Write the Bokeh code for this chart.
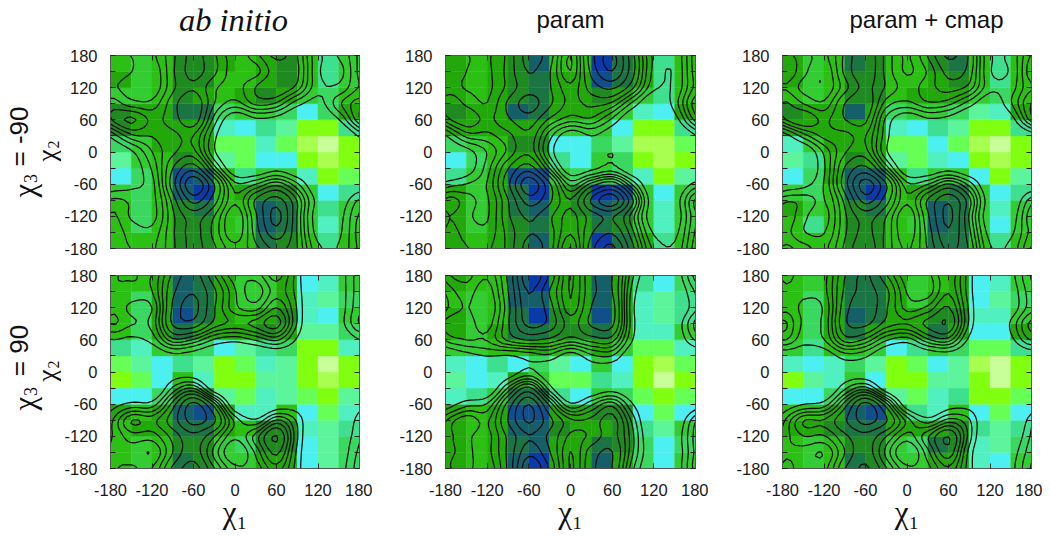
import numpy as np
from bokeh.plotting import figure
from bokeh.layouts import column, row
from bokeh.models import ColumnDataSource, LinearColorMapper, FixedTicker, LinearAxis, Label, Range1d
from bokeh.transform import transform
from bokeh.embed import file_html
from bokeh.resources import INLINE

PALETTE = ["#0a3aa8", "#104f8c", "#156068", "#1b7444", "#1e8a20", "#22a80a", "#2cc014",
           "#33cc33", "#3ad860", "#3ee090", "#50f0c0", "#4cf0f0", "#5cf59c", "#66ff55",
           "#80ff10", "#a8ff50", "#c8ff98"]
TICKS = [-180, -120, -60, 0, 60, 120, 180]
TICK_LABELS = {-180: "-180", -120: "-120", -60: "-60", 0: "0", 60: "60", 120: "120", 180: "180"}
MINOR = [-150, -90, -30, 30, 90, 150]
LEVELS = [1.0, 2.0, 3.0, 4.0, 4.8, 5.5, 6.2, 7.0, 8.0]

AB_TOP = [
 [6,7,6,4,4,5,6,5,4,6,9,7],[5,7,6,4,4,6,6,5,4,6,9,7],[7,7,6,4,5,6,5,4,5,7,8,6],
 [4,5,5,3,3,8,7,7,8,11,8,5],[4,5,5,5,5,10,11,9,12,14,14,9],[8,7,5,5,5,13,13,10,13,15,16,14],
 [12,7,6,4,5,12,13,11,11,14,15,14],[11,8,6,1,2,6,9,7,7,10,14,13],[7,8,6,2,0,6,5,4,4,7,11,9],
 [6,8,6,4,3,6,6,2,3,7,9,7],[6,8,6,4,4,6,7,2,3,7,10,7],[6,6,6,4,4,6,6,3,4,6,9,6]]
PARAM_TOP = [
 [5,6,5,4,2,6,6,0,3,5,9,6],[5,6,5,4,3,5,5,1,3,5,9,6],[5,6,5,4,3,5,5,4,5,7,9,6],
 [4,5,5,2,3,5,5,5,7,10,11,5],[5,5,5,5,5,7,7,7,11,14,14,9],[8,7,6,4,4,11,11,8,12,15,15,13],
 [11,8,6,5,5,9,11,7,8,14,15,14],[9,7,5,1,1,7,8,7,8,10,14,12],[5,7,5,3,0,5,4,0,1,7,11,7],
 [5,7,5,3,2,5,4,2,3,7,10,7],[5,7,5,4,3,5,5,3,4,7,10,7],[5,6,5,4,2,5,5,0,3,5,9,6]]
CMAP_TOP = [
 [5,7,6,3,4,6,6,4,3,6,9,6],[5,7,6,4,4,6,6,5,4,6,9,6],[6,7,6,4,4,6,5,5,5,7,8,6],
 [4,5,5,2,5,8,7,7,8,12,10,5],[5,5,5,5,5,10,11,9,12,14,14,9],[10,7,5,5,5,13,13,11,13,15,16,14],
 [12,9,6,4,5,12,13,10,11,14,15,14],[11,8,5,2,2,6,9,7,7,11,14,12],[7,8,6,2,0,6,5,4,3,7,11,9],
 [5,7,6,4,3,6,6,2,3,7,10,7],[6,9,6,4,4,6,7,2,3,7,11,7],[6,6,6,4,4,6,6,3,3,6,9,6]]
AB_BOT = [
 [6,6,5,2,3,5,7,7,5,11,10,7],[6,8,5,2,3,5,7,7,5,10,12,8],[6,8,5,1,3,5,6,5,4,10,11,7],
 [6,8,5,3,5,5,5,4,5,12,12,8],[9,10,7,7,8,11,12,9,8,14,14,10],[13,12,11,9,12,14,13,10,12,14,16,14],
 [14,13,11,6,10,14,14,12,12,14,15,14],[11,11,8,4,4,12,13,10,12,13,14,12],[5,6,5,2,1,5,10,10,6,11,13,10],
 [6,5,5,3,3,5,6,4,4,10,12,9],[6,7,6,4,4,7,8,4,4,11,12,8],[6,7,6,3,4,7,7,5,5,11,12,8]]
PARAM_BOT = [
 [5,6,6,2,0,5,5,2,5,9,11,8],[6,7,6,2,2,5,5,2,5,10,12,9],[5,7,6,3,0,4,5,1,5,10,12,9],
 [5,7,5,3,3,4,4,3,5,10,10,7],[7,7,6,6,5,6,7,5,7,13,13,10],[10,11,9,11,8,12,11,7,11,14,15,13],
 [12,11,10,5,7,13,13,9,10,14,16,14],[10,9,7,3,3,9,11,7,8,13,14,13],[5,6,5,1,1,5,5,4,4,11,13,11],
 [5,6,5,2,2,4,5,5,4,9,12,7],[5,6,5,3,2,5,5,3,4,8,11,8],[5,6,5,2,0,5,5,2,5,8,11,7]]
CMAP_BOT = [
 [6,7,5,3,3,5,7,6,5,11,10,7],[6,8,5,3,3,5,7,5,5,11,12,8],[6,8,5,2,3,5,5,4,4,10,10,7],
 [6,8,5,3,5,5,5,3,5,11,11,5],[7,9,6,6,7,11,9,7,8,13,13,9],[10,11,10,8,12,14,13,11,12,15,16,14],
 [14,12,10,7,11,14,14,12,12,14,16,14],[11,11,8,4,4,12,13,10,9,14,14,13],[6,6,5,2,1,5,9,10,6,11,13,11],
 [5,5,4,3,3,5,5,5,4,9,12,9],[6,7,6,4,4,7,8,3,4,10,12,8],[6,7,6,3,4,7,7,5,5,10,11,7]]


def upsample(n, factor, axis):
    """Periodic Catmull-Rom refinement of the node field along one axis (for drawing smooth contours)."""
    t = np.arange(factor) / factor
    w = np.stack([-0.5*t + t**2 - 0.5*t**3, 1 - 2.5*t**2 + 1.5*t**3,
                  0.5*t + 2*t**2 - 1.5*t**3, -0.5*t**2 + 0.5*t**3])
    n = np.moveaxis(n, axis, 0)
    out = np.zeros((n.shape[0] * factor,) + n.shape[1:])
    for i in range(n.shape[0]):
        for k in range(factor):
            out[i * factor + k] = sum(w[a, k] * n[(i + a - 1) % n.shape[0]] for a in range(4))
    return np.moveaxis(out, 0, axis)


def node_field(cells, factor=5):
    """Contour field: cell values moved to the 30 degree nodes."""
    c = np.minimum(np.array(cells, float)[::-1], 10.0)
    n = (c + np.roll(c, 1, 0) + np.roll(c, 1, 1) + np.roll(np.roll(c, 1, 0), 1, 1)) / 4
    blur = (np.roll(n, 1, 0) + np.roll(n, -1, 0) + np.roll(n, 1, 1) + np.roll(n, -1, 1)) / 4
    n = n + 0.6 * (n - blur)
    n = upsample(upsample(n, factor, 0), factor, 1)
    n = np.concatenate([n, n[:1, :]], axis=0)
    n = np.concatenate([n, n[:, :1]], axis=1)
    g = np.linspace(-180, 180, n.shape[0])
    return g, n


def panel(cells, width, height, left, right, top, bottom, xlabels):
    p = figure(width=width, height=height, output_backend="svg", toolbar_location=None,
               x_range=Range1d(-180, 180), y_range=Range1d(-180, 180),
               min_border_left=left, min_border_right=right, min_border_top=top, min_border_bottom=bottom,
               x_axis_location="below", y_axis_location="left")
    p.grid.visible = False
    p.background_fill_color = "white"
    p.outline_line_color = "#555555"
    p.outline_line_width = 1

    edges = np.arange(-180, 180, 30)
    arr = np.array(cells)[::-1]
    xx, yy = np.meshgrid(edges, edges)
    src = ColumnDataSource(dict(l=xx.ravel(), r=xx.ravel() + 30, b=yy.ravel(), t=yy.ravel() + 30,
                                v=arr.ravel()))
    mapper = LinearColorMapper(palette=PALETTE, low=-0.5, high=len(PALETTE) - 0.5)
    p.quad(left="l", right="r", bottom="b", top="t", source=src,
           fill_color=transform("v", mapper), line_color=transform("v", mapper), line_width=0.4)

    g, z = node_field(cells)
    p.contour(g, g, z, LEVELS, line_color="#0a0a0a", line_width=1.25)

    for ax in (p.xaxis[0], p.yaxis[0]):
        ax.ticker = FixedTicker(ticks=TICKS, minor_ticks=MINOR)
        ax.major_label_overrides = TICK_LABELS
        ax.major_tick_in, ax.major_tick_out = 5, 0
        ax.minor_tick_in, ax.minor_tick_out = 5, 0
        ax.minor_tick_line_color = "#222222"
        ax.major_tick_line_color = "#222222"
        ax.axis_line_color = "#555555"
        ax.major_label_text_font = "Liberation Sans"
        ax.major_label_text_font_size = "16.5px"
        ax.major_label_text_color = "#1a1a1a"
        ax.axis_label_text_font = "Liberation Serif"
        ax.axis_label_text_font_style = "normal"
        ax.axis_label_text_font_size = "31px"
        ax.axis_label_text_color = "#111111"
    p.yaxis[0].major_label_standoff = 13
    p.xaxis[0].major_label_standoff = 15
    p.xaxis[0].minor_tick_in = 0
    blank = {t: "" for t in TICKS}
    if xlabels:
        p.xaxis[0].axis_label = "\u03c7\u2081"
        p.xaxis[0].axis_label_standoff = -4
    else:
        p.xaxis[0].major_label_overrides = blank
        p.xaxis[0].major_label_text_font_size = "8px"
        p.xaxis[0].major_label_standoff = 0

    top_ax = LinearAxis(ticker=FixedTicker(ticks=TICKS), major_label_overrides=blank, major_label_text_font_size="8px",
                        major_tick_in=5, major_tick_out=0, minor_tick_in=0, minor_tick_out=0,
                        major_label_standoff=0, axis_line_color="#555555", major_tick_line_color="#222222")
    right_ax = LinearAxis(ticker=FixedTicker(ticks=TICKS, minor_ticks=MINOR), major_label_overrides=blank,
                          major_label_text_font_size="8px",
                          major_tick_in=5, major_tick_out=0, minor_tick_in=5, minor_tick_out=0,
                          major_label_standoff=0, axis_line_color="#555555", major_tick_line_color="#222222",
                          minor_tick_line_color="#222222")
    p.add_layout(top_ax, "above")
    p.add_layout(right_ax, "right")
    return p


def strip(w, h, frame_bottom, items):
    """Text-only figure; items are placed by page pixels, measured from the frame's bottom edge."""
    s = figure(width=w, height=h, output_backend="svg", toolbar_location=None, x_axis_type=None, y_axis_type=None,
               x_range=Range1d(0, w), y_range=Range1d(0, h), min_border=0, outline_line_color=None)
    s.grid.visible = False
    for (px, py, text, font, size, style, angle) in items:
        s.add_layout(Label(x=px, y=frame_bottom - py, x_units="screen", y_units="screen", text=text, text_font=font,
                           text_font_size=f"{size}px", text_font_style=style, angle=angle, angle_units="deg",
                           text_align="center", text_baseline="middle", text_color="#111111"))
    return s


SER = "Liberation Serif"
SAN = "Liberation Sans"
STRIP_W = 61
W = [372 - STRIP_W, 336, 334]
L = [109 - STRIP_W, 73, 74]
R = [13, 13, 11]
top_row = [panel(c, W[i], 222, L[i], R[i], 15, 14, False) for i, c in enumerate([AB_TOP, PARAM_TOP, CMAP_TOP])]
bot_row = [panel(c, W[i], 275, L[i], R[i], 13, 69, True) for i, c in enumerate([AB_BOT, PARAM_BOT, CMAP_BOT])]

title_strip = strip(1042, 40, 40, [
    (233, 19, "ab initio", SER, 32.5, "italic", 0),
    (570, 19, "param", SAN, 24, "normal", 0),
    (926, 19, "param + cmap", SAN, 24, "normal", 0)])
left_top = strip(STRIP_W, 222, 248, [
    (24, 190, "\u03c7", SER, 31, "normal", 90),
    (30, 178, "3", SER, 18, "normal", 90),
    (18, 136, "= -90", SAN, 26, "normal", 90),
    (46, 155, "\u03c7", SER, 28, "normal", 90),
    (53, 144, "2", SER, 16, "normal", 90)])
left_bot = strip(STRIP_W, 275, 468, [
    (24, 403, "\u03c7", SER, 31, "normal", 90),
    (30, 391, "3", SER, 18, "normal", 90),
    (18, 350, "= 90", SAN, 26, "normal", 90),
    (46, 375, "\u03c7", SER, 28, "normal", 90),
    (53, 364, "2", SER, 16, "normal", 90)])

page = column(title_strip,
              row(left_top, *top_row, spacing=0),
              row(left_bot, *bot_row, spacing=0),
              spacing=0)
open("out.html", "w").write(file_html(page, INLINE))
